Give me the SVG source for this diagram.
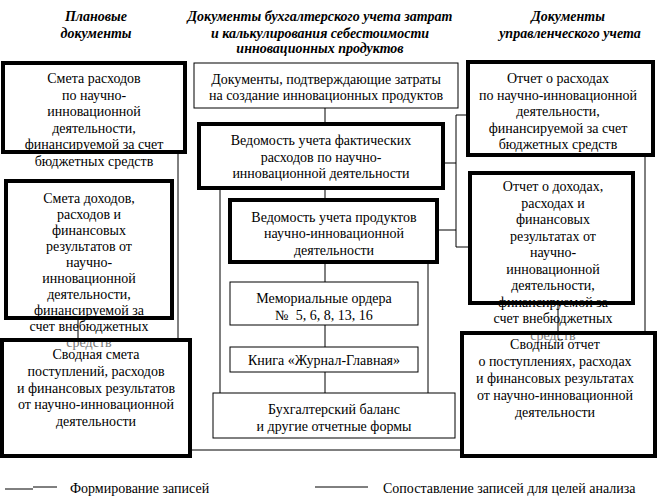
<svg xmlns="http://www.w3.org/2000/svg" width="663" height="502" viewBox="0 0 663 502">
<style>
text{font-family:"Liberation Serif","Times New Roman",serif;font-size:14px;fill:#000}
.h{font-style:italic;font-weight:bold;text-anchor:middle}
.c{text-anchor:middle}
.g{fill:#777}
.bg{fill:#fff;stroke:none}
.thick{fill:none;stroke:#000;stroke-width:4}
.thin{fill:#fff;stroke:#000;stroke-width:1}
.ln{fill:none;stroke:#000;stroke-width:1}
</style>
<rect width="663" height="502" fill="#fff"/>
<g id="headers">
<text class="h" x="96" y="21">Плановые</text>
<text class="h" x="96" y="38">документы</text>
<text class="h" x="320" y="21">Документы бухгалтерского учета затрат</text>
<text class="h" x="320" y="38">и калькулирования себестоимости</text>
<text class="h" x="320" y="53">инновационных продуктов</text>
<text class="h" x="568" y="21">Документы</text>
<text class="h" x="570" y="38">управленческого учета</text>
</g>
<g id="connectors">
<path class="ln" d="M178 152V340M78 318V340M190 450H462"/>
<path class="ln" d="M325 108V123M325 188V200M325 262V282M325 325V347M325 372V393M220 188V393M428 262V393"/>
<path class="ln" d="M456 115V247M443 163H456M437 230H456M456 115H468M456 247H470"/>
<path class="ln" d="M645 155V333M558 303V333"/>
</g>
<g id="smeta-rashodov">
<rect class="bg" x="3" y="63" width="182" height="89"/>
<text class="c" x="94" y="83">Смета расходов</text>
<text class="c" x="94" y="99.5">по научно-</text>
<text class="c" x="94" y="116">инновационной</text>
<text class="c" x="94" y="132.5">деятельности,</text>
<text class="c" x="94" y="149">финансируемой за счет</text>
<text class="c" x="94" y="165.5">бюджетных средств</text>
<rect class="thick" x="3" y="63" width="182" height="89"/>
</g>
<g id="smeta-dohodov">
<rect class="bg" x="6" y="181" width="166" height="137"/>
<text class="c" x="89" y="203">Смета доходов,</text>
<text class="c" x="89" y="219">расходов и</text>
<text class="c" x="89" y="235">финансовых</text>
<text class="c" x="89" y="251">результатов от</text>
<text class="c" x="89" y="267">научно-</text>
<text class="c" x="89" y="283">инновационной</text>
<text class="c" x="89" y="299">деятельности,</text>
<text class="c" x="89" y="315">финансируемой за</text>
<text class="c" x="89" y="331">счет внебюджетных</text>
<text class="c g" x="89" y="347">средств</text>
<rect class="thick" x="6" y="181" width="166" height="137"/>
</g>
<g id="svodnaya-smeta">
<text class="c" x="96" y="359">Сводная смета</text>
<text class="c" x="96" y="376">поступлений, расходов</text>
<text class="c" x="96" y="392.5">и финансовых результатов</text>
<text class="c" x="96" y="409">от научно-инновационной</text>
<text class="c" x="96" y="425.5">деятельности</text>
<rect class="thick" x="2" y="340" width="188" height="116"/>
</g>
<g id="dokumenty-zatraty">
<rect class="thin" x="194" y="63" width="264" height="45"/>
<text class="c" x="326" y="84">Документы, подтверждающие затраты</text>
<text class="c" x="326" y="100">на создание инновационных продуктов</text>
</g>
<g id="vedomost-rashodov">
<rect class="bg" x="199" y="124" width="244" height="64"/>
<text class="c" x="321" y="145">Ведомость учета фактических</text>
<text class="c" x="321" y="162">расходов по научно-</text>
<text class="c" x="321" y="178">инновационной деятельности</text>
<rect class="thick" x="199" y="124" width="244" height="64"/>
</g>
<g id="vedomost-produktov">
<rect class="bg" x="230" y="200" width="207" height="62"/>
<text class="c" x="334" y="222">Ведомость учета продуктов</text>
<text class="c" x="334" y="238">научно-инновационной</text>
<text class="c" x="334" y="255">деятельности</text>
<rect class="thick" x="230" y="200" width="207" height="62"/>
</g>
<g id="memorialnye-ordera">
<rect class="thin" x="230" y="282" width="188" height="43"/>
<text class="c" x="324" y="303">Мемориальные ордера</text>
<text class="c" x="324" y="320" xml:space="preserve">№  5, 6, 8, 13, 16</text>
</g>
<g id="kniga">
<rect class="thin" x="230" y="347" width="188" height="25"/>
<text class="c" x="324" y="365">Книга «Журнал-Главная»</text>
</g>
<g id="balans">
<rect class="thin" x="213" y="393" width="242" height="45"/>
<text class="c" x="334" y="414">Бухгалтерский баланс</text>
<text class="c" x="334" y="431">и другие отчетные формы</text>
</g>
<g id="otchet-rashodov">
<rect class="bg" x="468" y="62" width="185" height="93"/>
<text class="c" x="558" y="83">Отчет о расходах</text>
<text class="c" x="558" y="100">по научно-инновационной</text>
<text class="c" x="558" y="116">деятельности,</text>
<text class="c" x="558" y="133">финансируемой за счет</text>
<text class="c" x="558" y="149">бюджетных средств</text>
<rect class="thick" x="468" y="62" width="185" height="93"/>
</g>
<g id="otchet-dohodov">
<rect class="bg" x="470" y="173" width="163" height="130"/>
<text class="c" x="553" y="191">Отчет о доходах,</text>
<text class="c" x="553" y="207.5">расходах и</text>
<text class="c" x="553" y="224">финансовых</text>
<text class="c" x="553" y="240.5">результатах от</text>
<text class="c" x="553" y="257">научно-</text>
<text class="c" x="553" y="273.5">инновационной</text>
<text class="c" x="553" y="290">деятельности,</text>
<text class="c" x="553" y="306.5">финансируемой за</text>
<text class="c" x="553" y="323">счет внебюджетных</text>
<text class="c g" x="553" y="339.5">средств</text>
<rect class="thick" x="470" y="173" width="163" height="130"/>
</g>
<g id="svodny-otchet">
<text class="c" x="555" y="349">Сводный отчет</text>
<text class="c" x="555" y="366">о поступлениях, расходах</text>
<text class="c" x="555" y="383">и финансовых результатах</text>
<text class="c" x="555" y="400">от научно-инновационной</text>
<text class="c" x="555" y="417">деятельности</text>
<rect class="thick" x="462" y="333" width="193" height="123"/>
</g>
<g id="legend">
<path class="ln" d="M5 489H33M33 487H57M315 487H368"/>
<text x="70" y="493">Формирование записей</text>
<text x="383" y="493">Сопоставление записей для целей анализа</text>
</g>
</svg>
